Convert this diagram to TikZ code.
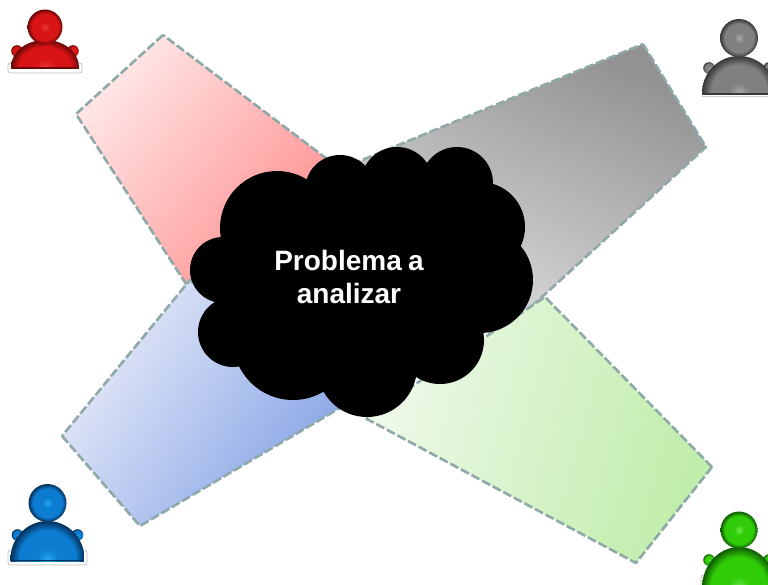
\documentclass[tikz,border=0pt]{standalone}
\usepackage{fontspec}
\setmainfont{Liberation Sans}
\definecolor{panelline}{HTML}{8FA8A8}
\definecolor{redhi}{HTML}{FFE6E6}\definecolor{redlo}{HTML}{FF9090}
\definecolor{grayhi}{HTML}{929292}\definecolor{graylo}{HTML}{E0E0E0}
\definecolor{bluehi}{HTML}{E8EBF9}\definecolor{bluelo}{HTML}{86A4E6}
\definecolor{greenhi}{HTML}{EEF9EA}\definecolor{greenlo}{HTML}{C0EDAA}
\newcommand{\mkorb}[4]{%
  \definecolor{#1l}{HTML}{#2}\definecolor{#1b}{HTML}{#3}\definecolor{#1d}{HTML}{#4}%
  \pgfdeclareradialshading{#1}{\pgfpoint{0bp}{0bp}}{color(0bp)=(#1l); color(7bp)=(#1b); color(19bp)=(#1b); color(25bp)=(#1d); color(50bp)=(#1d)}}
\mkorb{orbred}{E83838}{D81414}{6A0808}
\mkorb{orbgray}{A8A8A8}{808080}{383838}
\mkorb{orbblue}{24A8F4}{0C7CD0}{04305A}
\mkorb{orbgreen}{70E850}{30CC08}{105A04}
\tikzset{
  panel/.style={draw=panelline, line width=2.6pt, dash pattern=on 9pt off 3pt, line join=round},
  blob/.style={fill=black, draw=none},
  basestrip/.style={fill=white, draw=black!25, line width=0.7pt, rounded corners=2.5pt},
}
% head x, y, r; body half width, top, bottom; shoulder dx, y; shading
\newcommand{\person}[9]{%
  \def\psh{#9}%
  \shade[shading=\psh] (#1-#7,#8) circle (5.8);
  \shade[shading=\psh] (#1+#7,#8) circle (5.8);
  \begin{scope}
    \clip (#1-#4-2,#5-1) rectangle (#1+#4+2,#6);
    \shade[shading=\psh] (#1,#6-2) ellipse (#4+1 and #6-1-#5);
  \end{scope}
  \fill[\psh d] (#1-#4+1,#6-1.5) rectangle (#1+#4-1,#6);
  \shade[shading=\psh] (#1,#2) circle (#3);}
\begin{document}
\begin{tikzpicture}[x=1pt,y=-1pt]
\useasboundingbox (0,0) rectangle (768,585);
\fill[white] (0,0) rectangle (768,585);
\path[panel,shading=axis,top color=redhi,bottom color=redlo,shading angle=50]
  (163,35) -- (76,114) -- (190,290) -- (335,165) -- cycle;
\path[panel,shading=axis,top color=grayhi,bottom color=graylo,shading angle=-25]
  (643,44) -- (706,147) -- (495,340) -- (350,165) -- cycle;
\path[panel,shading=axis,top color=bluehi,bottom color=bluelo,shading angle=55]
  (62,436) -- (140,526) -- (345,405) -- (190,280) -- cycle;
\path[panel,shading=axis,top color=greenhi,bottom color=greenlo,shading angle=75]
  (712,467) -- (636,563) -- (365,418) -- (545,297) -- cycle;
\fill[blob] (277,228) circle (57);
\fill[blob] (340,190) circle (35);
\fill[blob] (397,183) circle (36);
\fill[blob] (457,183) circle (36);
\fill[blob] (480,227) circle (45);
\fill[blob] (480,280) circle (53);
\fill[blob] (440,340) circle (44);
\fill[blob] (367,367) circle (50);
\fill[blob] (293,340) circle (60);
\fill[blob] (233,332) circle (35);
\fill[blob] (223,270) circle (33);
\fill[blob] (360,280) ellipse (130 and 100);
\node[font=\bfseries\fontsize{28}{33}\selectfont, text=white, align=center, inner sep=0pt] (title) at (349,277) {Problema\hspace{-1.5pt} a\\analizar};
% red
\draw[basestrip] (8,63) rectangle (82,73);
\person{45}{27}{17.5}{33}{41}{69}{28}{51}{orbred}
% gray
\draw[black!20,line width=0.7pt] (702,96) -- (768,96);
\person{739}{38}{19}{36}{57}{95}{30}{68}{orbgray}
% blue
\draw[basestrip] (8,550) rectangle (87,565);
\person{47.5}{503}{19}{36}{522}{561}{30}{535}{orbblue}
% green
\draw[basestrip] (701,575) rectangle (790,595);
\person{739}{530}{18.5}{36}{548}{590}{30}{560}{orbgreen}
\end{tikzpicture}
\end{document}
